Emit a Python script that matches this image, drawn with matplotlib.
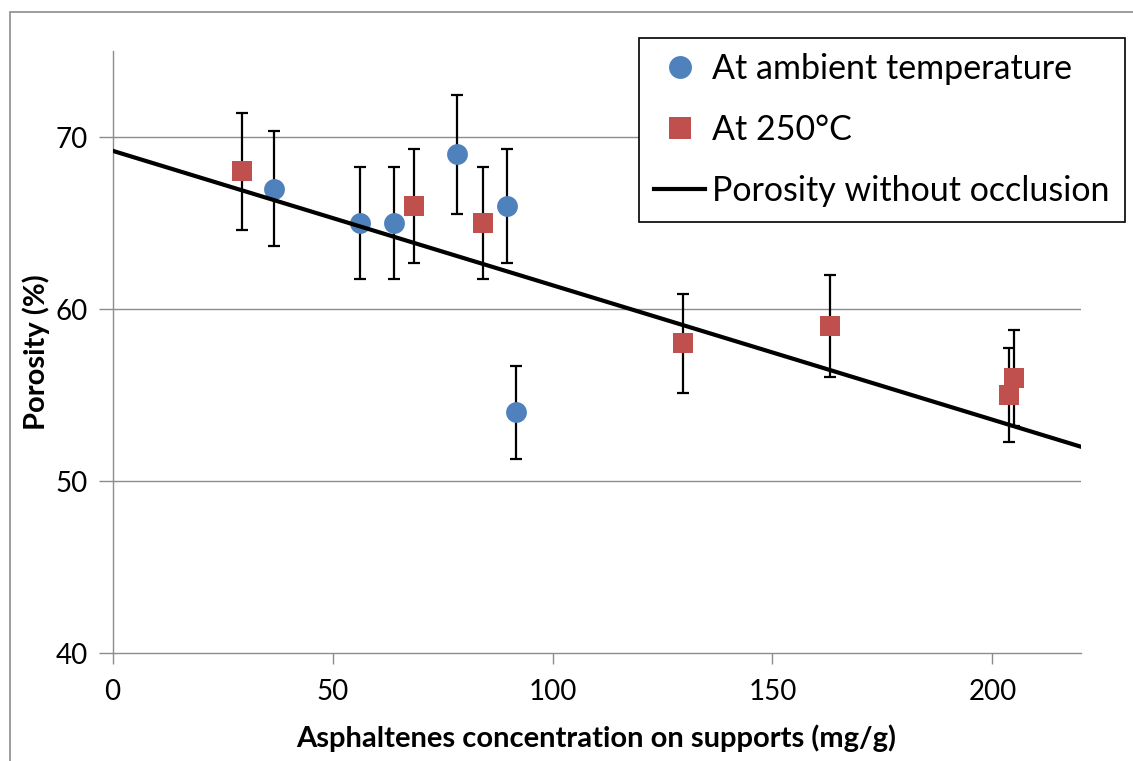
import matplotlib
matplotlib.use("Agg")
import matplotlib.pyplot as plt
from matplotlib.patches import Rectangle
import numpy as np

plt.rcParams['font.family'] = ['Lato', 'DejaVu Sans']

# Data
amb_x = [36.8, 56.2, 64.0, 78.2, 89.6, 91.6]
amb_y = [67.0, 65.0, 65.0, 69.0, 66.0, 54.0]
amb_err = [3.35, 3.25, 3.25, 3.45, 3.3, 2.7]

hot_x = [29.4, 68.6, 84.1, 129.7, 163.1, 203.7, 205.0]
hot_y = [68.0, 66.0, 65.0, 58.0, 59.0, 55.0, 56.0]
hot_err = [3.4, 3.3, 3.25, 2.9, 2.95, 2.75, 2.8]

line_x = [0, 220]
line_y = [69.2, 52.0]

x_ticks = [0, 50, 100, 150, 200]
y_ticks = [40, 50, 60, 70]

blue = '#4F81BD'
red = '#C0504D'
grid = '#8C8C8C'

fig = plt.figure(figsize=(11.33, 7.61), dpi=100)
ax = fig.add_axes([112.5/1133, 1-653/761, (1080.5-112.5)/1133, (653-51)/761])

# outer chart frame
fig.patches.append(Rectangle((10/1133, -0.2), 2.0, 0.2 + 1-12/761, transform=fig.transFigure,
                             fill=False, edgecolor='#8C8C8C', linewidth=1.2, clip_on=False))

for yv in y_ticks[1:]:
    ax.axhline(yv, color=grid, lw=1.0, zorder=0)

ax.errorbar(amb_x, amb_y, yerr=amb_err, fmt='none', ecolor='black', elinewidth=1.6,
            capsize=4, capthick=1.6, zorder=2)
ax.errorbar(hot_x, hot_y, yerr=hot_err, fmt='none', ecolor='black', elinewidth=1.6,
            capsize=4, capthick=1.6, zorder=2)
ax.plot(amb_x, amb_y, 'o', color=blue, markersize=15, markeredgewidth=0,
        label='At ambient temperature', zorder=3)
ax.plot(hot_x, hot_y, 's', color=red, markersize=14, markeredgewidth=0,
        label='At 250°C', zorder=3)
ax.plot(line_x, line_y, color='black', lw=3, label='Porosity without occlusion', zorder=4)

ax.set_xlim(0, 220)
ax.set_ylim(40, 75)
ax.set_xticks(x_ticks)
ax.set_yticks(y_ticks)
for s in ['top', 'right']:
    ax.spines[s].set_visible(False)
for s in ['left', 'bottom']:
    ax.spines[s].set_color(grid)
    ax.spines[s].set_linewidth(1.0)
ax.tick_params(axis='both', direction='out', color=grid, width=1.0, labelsize=20)
ax.tick_params(axis='y', length=10, pad=8)
ax.tick_params(axis='x', length=8, pad=11)

ax.set_xlabel('Asphaltenes concentration on supports (mg/g)', fontsize=21, fontweight='bold', labelpad=14)
ax.set_ylabel('Porosity (%)', fontsize=21, fontweight='bold')
ax.yaxis.set_label_coords(-62/968, 0.5)

leg = ax.legend(loc='upper right', bbox_to_anchor=(1125/1133, 1-37.7/761), bbox_transform=fig.transFigure,
                fontsize=24.5, frameon=True, fancybox=False, edgecolor='black', framealpha=1,
                borderpad=0.45, labelspacing=0.85, handlelength=1.5, handletextpad=0.2,
                borderaxespad=0, markerscale=1.1)
leg.get_frame().set_linewidth(1.2)

fig.savefig('out.png', dpi=100)
